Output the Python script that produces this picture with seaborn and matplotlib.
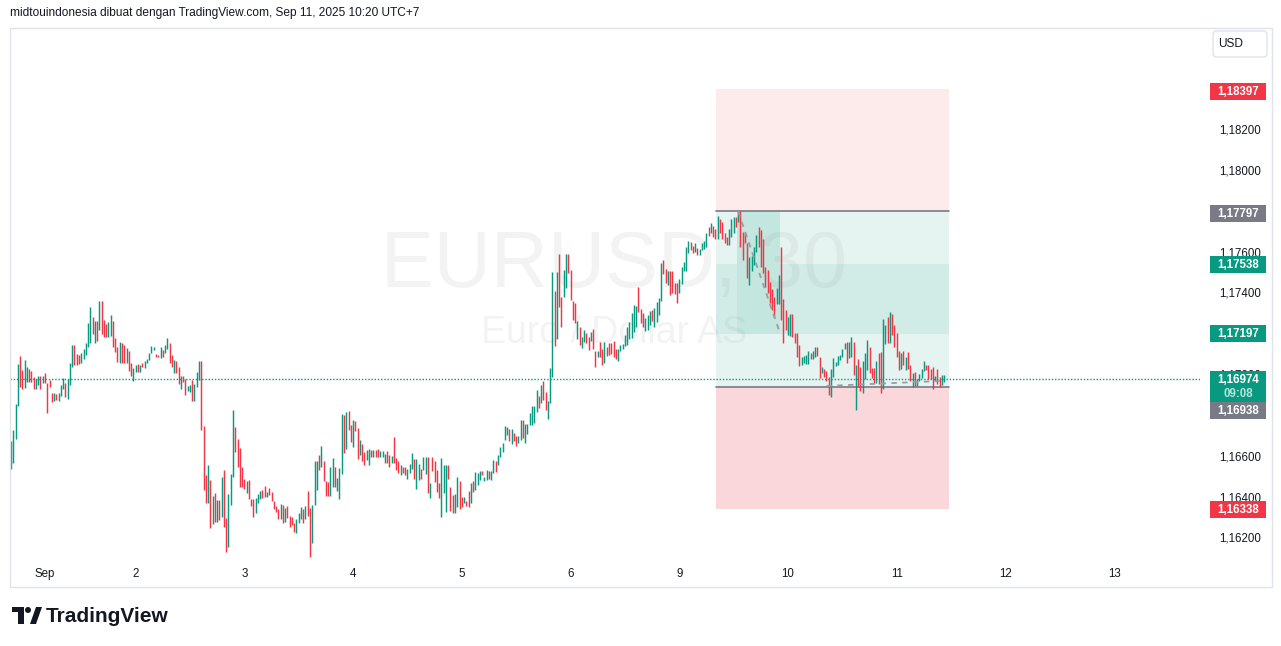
import matplotlib
matplotlib.use("Agg")
import matplotlib.pyplot as plt
from matplotlib.patches import Rectangle, Polygon, Circle, FancyBboxPatch
from matplotlib.transforms import IdentityTransform
import numpy as np
import pandas as pd
import seaborn as sns

# ---------------- data (EURUSD, 30 min) ----------------
highs = [
    1.16672, 1.16726, 1.16853, 1.17049, 1.17089, 1.17020, 1.17069, 1.17035, 1.17025, 1.17015,
    1.16986, 1.16976, 1.16991, 1.16991, 1.16991, 1.17005, 1.16956, 1.16971, 1.16907, 1.16907,
    1.16902, 1.16907, 1.16947, 1.16981, 1.16956, 1.16976, 1.17054, 1.17143, 1.17143, 1.17098,
    1.17094, 1.17103, 1.17123, 1.17152, 1.17250, 1.17329, 1.17280, 1.17260, 1.17260, 1.17358,
    1.17358, 1.17265, 1.17245, 1.17255, 1.17290, 1.17260, 1.17177, 1.17133, 1.17157, 1.17152,
    1.17143, 1.17128, 1.17113, 1.17054, 1.17030, 1.17045, 1.17049, 1.17045, 1.17054, 1.17064,
    1.17074, 1.17103, 1.17138, 1.17133, 1.17098, 1.17094, 1.17133, 1.17118, 1.17143, 1.17177,
    1.17152, 1.17094, 1.17069, 1.17064, 1.17035, 1.16991, 1.16991, 1.16976, 1.16942, 1.16947,
    1.16971, 1.16951, 1.17010, 1.17064, 1.17064,
    1.16746, 1.16506, 1.16555, 1.16481, 1.16403, 1.16417, 1.16383, 1.16383, 1.16496, 1.16530,
    1.16295, 1.16412, 1.16510, 1.16824, 1.16741, 1.16682, 1.16638, 1.16545, 1.16486, 1.16476,
    1.16481, 1.16388, 1.16388, 1.16393, 1.16412, 1.16427, 1.16432, 1.16452, 1.16422, 1.16442,
    1.16422, 1.16378, 1.16354, 1.16339, 1.16363, 1.16359, 1.16344, 1.16354, 1.16305, 1.16300,
    1.16270, 1.16290, 1.16319, 1.16349, 1.16339, 1.16354, 1.16427, 1.16344, 1.16359, 1.16574,
    1.16574, 1.16604, 1.16648, 1.16574, 1.16476, 1.16471, 1.16545, 1.16589, 1.16545, 1.16491,
    1.16540, 1.16804, 1.16800, 1.16814, 1.16819, 1.16751, 1.16775, 1.16770, 1.16736, 1.16677,
    1.16657, 1.16618, 1.16628, 1.16633, 1.16628, 1.16628, 1.16628, 1.16633, 1.16623, 1.16623,
    1.16608, 1.16623, 1.16604,
    1.16599, 1.16692, 1.16589, 1.16574, 1.16555, 1.16545, 1.16545, 1.16535, 1.16559, 1.16613,
    1.16584, 1.16584, 1.16559, 1.16535, 1.16594, 1.16594, 1.16594, 1.16466, 1.16594, 1.16574,
    1.16530, 1.16466, 1.16589, 1.16555, 1.16555, 1.16555, 1.16447, 1.16408, 1.16412, 1.16496,
    1.16476, 1.16398, 1.16398, 1.16378, 1.16427, 1.16466, 1.16476, 1.16520, 1.16515, 1.16525,
    1.16525, 1.16496, 1.16530, 1.16525, 1.16525, 1.16579, 1.16574, 1.16604, 1.16643, 1.16662,
    1.16746, 1.16741, 1.16731, 1.16731, 1.16711, 1.16697, 1.16697, 1.16775, 1.16775, 1.16755,
    1.16755, 1.16809, 1.16844, 1.16844, 1.16922, 1.16893, 1.16947, 1.16966, 1.16912, 1.16868,
    1.17030, 1.17500, 1.17407, 1.17500, 1.17588, 1.17378, 1.17510, 1.17588, 1.17588, 1.17510,
    1.17358, 1.17348,
    1.17260, 1.17231, 1.17182, 1.17216, 1.17201, 1.17182, 1.17206, 1.17221, 1.17113, 1.17113,
    1.17157, 1.17123, 1.17157, 1.17133, 1.17152, 1.17152, 1.17162, 1.17123, 1.17123, 1.17143,
    1.17147, 1.17192, 1.17231, 1.17255, 1.17299, 1.17339, 1.17334, 1.17427, 1.17319, 1.17299,
    1.17275, 1.17290, 1.17309, 1.17314, 1.17324, 1.17353, 1.17373, 1.17544, 1.17559, 1.17515,
    1.17505, 1.17505, 1.17505, 1.17446, 1.17446, 1.17466, 1.17525, 1.17549, 1.17623, 1.17652,
    1.17647, 1.17628, 1.17642, 1.17618, 1.17613, 1.17642, 1.17652, 1.17691, 1.17721, 1.17740,
    1.17726, 1.17711, 1.17775, 1.17760, 1.17745, 1.17691, 1.17672, 1.17711, 1.17760, 1.17770,
    1.17770, 1.17794, 1.17797,
    1.17696, 1.17691, 1.17642, 1.17574, 1.17579, 1.17623, 1.17682, 1.17721, 1.17706, 1.17662,
    1.17525, 1.17510, 1.17451, 1.17417, 1.17378, 1.17422, 1.17486, 1.17623, 1.17368, 1.17314,
    1.17280, 1.17294, 1.17294, 1.17201, 1.17201, 1.17143, 1.17084, 1.17089, 1.17094, 1.17113,
    1.17103, 1.17113, 1.17133, 1.17133, 1.17084, 1.17035, 1.17025, 1.17015, 1.16986, 1.17025,
    1.17079, 1.17059, 1.17089, 1.17094, 1.17123, 1.17152, 1.17157, 1.17157, 1.17182, 1.17157,
    1.17045, 1.17074, 1.17035, 1.17064, 1.17103, 1.17167, 1.17133, 1.17030, 1.17030, 1.17064,
    1.17103, 1.17108, 1.17270, 1.17241, 1.17280, 1.17304, 1.17294, 1.17241, 1.17201, 1.17113,
    1.17103, 1.17113, 1.17084, 1.17108, 1.17045, 1.17005, 1.17010, 1.16976, 1.17000, 1.17025,
    1.17064, 1.17045, 1.17045, 1.17025, 1.17035, 1.16991, 1.17025, 1.16986, 1.16996, 1.16996,
]
lows = [
    1.16535, 1.16564, 1.16682, 1.16844, 1.16937, 1.16927, 1.16932, 1.16961, 1.16961, 1.16961,
    1.16927, 1.16927, 1.16947, 1.16927, 1.16956, 1.16956, 1.16809, 1.16937, 1.16863, 1.16868,
    1.16873, 1.16868, 1.16893, 1.16927, 1.16888, 1.16878, 1.16947, 1.17035, 1.17045, 1.17045,
    1.17049, 1.17054, 1.17074, 1.17094, 1.17133, 1.17152, 1.17196, 1.17152, 1.17162, 1.17216,
    1.17196, 1.17182, 1.17182, 1.17182, 1.17187, 1.17133, 1.17108, 1.17059, 1.17054, 1.17054,
    1.17054, 1.17054, 1.17015, 1.16991, 1.16966, 1.17010, 1.17010, 1.17010, 1.17035, 1.17030,
    1.17054, 1.17069, 1.17103, 1.17118, 1.17084, 1.17084, 1.17079, 1.17084, 1.17103, 1.17123,
    1.17054, 1.17035, 1.17005, 1.17005, 1.16951, 1.16927, 1.16961, 1.16898, 1.16917, 1.16912,
    1.16868, 1.16868, 1.16937, 1.16971, 1.16726,
    1.16432, 1.16368, 1.16368, 1.16246, 1.16265, 1.16275, 1.16275, 1.16285, 1.16300, 1.16251,
    1.16128, 1.16153, 1.16359, 1.16496, 1.16618, 1.16545, 1.16447, 1.16447, 1.16437, 1.16417,
    1.16388, 1.16354, 1.16300, 1.16319, 1.16368, 1.16388, 1.16393, 1.16398, 1.16398, 1.16408,
    1.16378, 1.16339, 1.16324, 1.16290, 1.16290, 1.16270, 1.16275, 1.16295, 1.16251, 1.16261,
    1.16226, 1.16221, 1.16270, 1.16290, 1.16270, 1.16290, 1.16305, 1.16104, 1.16172, 1.16359,
    1.16432, 1.16530, 1.16545, 1.16476, 1.16403, 1.16403, 1.16403, 1.16447, 1.16447, 1.16427,
    1.16388, 1.16510, 1.16613, 1.16633, 1.16726, 1.16667, 1.16643, 1.16721, 1.16584, 1.16604,
    1.16574, 1.16555, 1.16579, 1.16555, 1.16594, 1.16594, 1.16594, 1.16594, 1.16594, 1.16594,
    1.16564, 1.16564, 1.16545,
    1.16564, 1.16564, 1.16530, 1.16515, 1.16506, 1.16515, 1.16506, 1.16486, 1.16515, 1.16535,
    1.16486, 1.16437, 1.16481, 1.16486, 1.16530, 1.16510, 1.16417, 1.16393, 1.16525, 1.16471,
    1.16422, 1.16393, 1.16300, 1.16417, 1.16324, 1.16486, 1.16329, 1.16319, 1.16319, 1.16349,
    1.16339, 1.16349, 1.16368, 1.16354, 1.16349, 1.16368, 1.16422, 1.16432, 1.16457, 1.16481,
    1.16506, 1.16476, 1.16481, 1.16486, 1.16481, 1.16515, 1.16520, 1.16555, 1.16594, 1.16618,
    1.16677, 1.16702, 1.16672, 1.16657, 1.16672, 1.16648, 1.16662, 1.16677, 1.16687, 1.16662,
    1.16706, 1.16751, 1.16751, 1.16760, 1.16814, 1.16834, 1.16858, 1.16873, 1.16824, 1.16780,
    1.16858, 1.16986, 1.17138, 1.17172, 1.17329, 1.17231, 1.17378, 1.17422, 1.17495, 1.17363,
    1.17265, 1.17250,
    1.17172, 1.17143, 1.17128, 1.17157, 1.17152, 1.17118, 1.17162, 1.17123, 1.17035, 1.17084,
    1.17084, 1.17045, 1.17054, 1.17089, 1.17094, 1.17098, 1.17084, 1.17074, 1.17064, 1.17113,
    1.17123, 1.17138, 1.17143, 1.17172, 1.17177, 1.17206, 1.17231, 1.17304, 1.17250, 1.17231,
    1.17211, 1.17216, 1.17241, 1.17260, 1.17231, 1.17255, 1.17290, 1.17358, 1.17490, 1.17446,
    1.17437, 1.17388, 1.17397, 1.17392, 1.17348, 1.17397, 1.17441, 1.17505, 1.17505, 1.17593,
    1.17608, 1.17593, 1.17598, 1.17584, 1.17584, 1.17608, 1.17613, 1.17623, 1.17677, 1.17691,
    1.17672, 1.17662, 1.17662, 1.17691, 1.17662, 1.17642, 1.17633, 1.17633, 1.17672, 1.17691,
    1.17721, 1.17745, 1.17623,
    1.17559, 1.17642, 1.17471, 1.17437, 1.17505, 1.17535, 1.17598, 1.17623, 1.17525, 1.17495,
    1.17427, 1.17397, 1.17348, 1.17314, 1.17280, 1.17343, 1.17343, 1.17265, 1.17152, 1.17216,
    1.17192, 1.17187, 1.17182, 1.17152, 1.17084, 1.17040, 1.17045, 1.17054, 1.17049, 1.17049,
    1.17074, 1.17074, 1.17084, 1.17089, 1.16981, 1.17005, 1.16986, 1.16966, 1.16898, 1.16888,
    1.16986, 1.17040, 1.17045, 1.17069, 1.17084, 1.17123, 1.17054, 1.17079, 1.17084, 1.16996,
    1.16824, 1.16937, 1.16917, 1.16907, 1.16976, 1.17020, 1.17005, 1.16981, 1.16956, 1.16956,
    1.16951, 1.16907, 1.16927, 1.17147, 1.17152, 1.17152, 1.17192, 1.17133, 1.17084, 1.17020,
    1.17025, 1.17045, 1.17020, 1.17025, 1.16966, 1.16937, 1.16942, 1.16942, 1.16966, 1.16981,
    1.17015, 1.17020, 1.16976, 1.16976, 1.16927, 1.16966, 1.16951, 1.16937, 1.16947, 1.16961,
]
direction = (
    "ggggrrggrrrggrgrrrrg" "rgggrgggrrrgggggrgr" "grrrggrrrgrrgrrggrgrggggg" "rrgrggrrgrrgrrggrgggr"
    "rrgrgrgrgrrgg" "grrrrrgrrrgggrrgrrrr" "rgrgrrrrgggrgrrgggrg" "rrrggrgggrgrrgrrgrrg" "grgrrgggrr"
    "grrrgr" "rgggrggrggrgr" "rrrgggrrrggrrgrrgrgggr" "ggrggrgggggrg" "rrggrggggggrgrrgggrgrrggrrrr"
    "grggrrg" "rrgrrgrrrr" "rgggggggggrrr" "gggrggggrrg" "rrrrgggggrrg" "rggggrg" "rrgrrrrgggrgr"
    "rrrggggrrrrrrrrggrrrggrrrrg" "gggrggrrgrrrggggg" "ggrggrgrrgggrrrgrrggrgrrrrgrgrrgrg" "gggrrrrgrrgg"
)
first_bar = -15                       # bar index of first candle (0 = Sep 1 session open)
day_ticks = [0, 40, 88, 136, 184, 232, 280, 328, 376, 424, 472]
day_labels = ["Sep", "2", "3", "4", "5", "6", "9", "10", "11", "12", "13"]
# price-scale labels that are not hidden behind a badge
price_ticks = [1.162, 1.164, 1.166, 1.170, 1.174, 1.176, 1.180, 1.182]

last_price = 1.16974
countdown = "09:08"
stop_level = 1.18397
entry_level = 1.17797
zone_high = 1.17538
zone_low = 1.17197
exit_level = 1.16938
target_level = 1.16338
position_bars = (296.3, 399.1)
highlight_bars = (305.5, 324.5)
path1_bars, path1_prices = [306, 324], [1.17797, 1.17216]
path2_bars, path2_prices = [345, 395], [1.16942, 1.16966]

symbol = "EURUSD, 30"
description = "Euro / Dollar AS"
header = "midtouindonesia dibuat dengan TradingView.com, Sep 11, 2025 10:20 UTC+7"

UP, DOWN, GREY = "#089981", "#f23645", "#787b86"
TXT = "#131722"

# ---------------- figure ----------------
W, H = 1281, 646
sns.set_theme(style="white")
plt.rcParams["font.family"] = ["Liberation Sans", "DejaVu Sans"]

fig = plt.figure(figsize=(W / 100, H / 100), dpi=100)
fig.patch.set_facecolor("white")

ax_l, ax_r, ax_t, ax_b = 10, 1200, 28, 561
ax = fig.add_axes([ax_l / W, 1 - ax_b / H, (ax_r - ax_l) / W, (ax_b - ax_t) / H])
ax.set_facecolor("white")
for s in ax.spines.values():
    s.set_visible(False)
ax.grid(False)
ax.set_xlim(-15.45, 509.9)
ax.set_ylim(1.16084, 1.18696)

# watermark (above the position fills, below candles)
ax.text(0.508, 0.553, symbol, transform=ax.transAxes, ha="center", va="center",
        fontsize=57, color=GREY, alpha=0.085, zorder=1.5)
ax.text(0.508, 0.428, description, transform=ax.transAxes, ha="center", va="center",
        fontsize=27, color=GREY, alpha=0.085, zorder=1.5)

# position tool
x0, x1 = position_bars
ax.add_patch(Rectangle((x0, entry_level), x1 - x0, stop_level - entry_level, facecolor="#fdeaeb", edgecolor="none", zorder=1))
ax.add_patch(Rectangle((x0, exit_level), x1 - x0, entry_level - exit_level, facecolor="#e6f4f1", edgecolor="none", zorder=1))
ax.add_patch(Rectangle((x0, zone_low), x1 - x0, zone_high - zone_low, facecolor="#d1ece6", edgecolor="none", zorder=1.1))
ax.add_patch(Rectangle((highlight_bars[0], zone_low), highlight_bars[1] - highlight_bars[0], entry_level - zone_low,
                       facecolor="#c3e6de", edgecolor="none", zorder=1.2))
ax.add_patch(Rectangle((x0, target_level), x1 - x0, exit_level - target_level, facecolor="#f9d7da", edgecolor="none", zorder=1))
ax.plot([x0, x1], [entry_level, entry_level], color=GREY, lw=1.2, zorder=2)
ax.plot([x0, x1], [exit_level, exit_level], color=GREY, lw=1.2, zorder=2)

# candles
n = len(highs)
df = pd.DataFrame({"bar": np.arange(n) + first_bar, "high": highs, "low": lows, "dir": list(direction)})
cols = df["dir"].map({"g": UP, "r": DOWN}).tolist()
ax.vlines(df["bar"], df["low"], df["high"], colors=cols, linewidth=1.05, zorder=3)

# trade path (dashed)
path = pd.DataFrame({"bar": path1_bars + path2_bars, "price": path1_prices + path2_prices,
                     "seg": ["a", "a", "b", "b"]})
sns.lineplot(data=path, x="bar", y="price", units="seg", estimator=None, color="#9a9ca4",
             lw=1.3, linestyle=(0, (3, 3)), ax=ax, zorder=4, legend=False)

# last price dotted line
ax.axhline(last_price, color=UP, lw=1.0, linestyle=(0, (1, 1.3)), zorder=4)

# axes ticks
ax.set_xticks(day_ticks)
ax.set_xticklabels(day_labels)
ax.tick_params(axis="x", length=0, pad=5, labelsize=8.3, labelcolor=TXT)
ax.yaxis.tick_right()
ax.set_yticks(price_ticks)
ax.set_yticklabels([f"{v:.5f}".replace(".", ",") for v in price_ticks])
ax.tick_params(axis="y", length=0, pad=13.5, labelsize=8.3, labelcolor=TXT)
ax.set_xlabel("")
ax.set_ylabel("")

# ---------------- price badges (display pixel coords) ----------------
IDT = IdentityTransform()


def ypix(level):
    return ax.transData.transform((0, level))[1]


def badge(yc, color, text, h=17):
    fig.add_artist(Rectangle((1210, yc - h / 2), 56, h, facecolor=color, edgecolor="none",
                             transform=IDT, zorder=10))
    fig.text(1238, yc - 0.5, text, transform=IDT, ha="center", va="center", fontsize=8.3,
             fontweight="bold", color="white", zorder=11)


def fmt(v):
    return f"{v:.5f}".replace(".", ",")


badge(ypix(stop_level) - 2, DOWN, fmt(stop_level))
badge(ypix(entry_level) - 2, GREY, fmt(entry_level))
badge(ypix(zone_high), UP, fmt(zone_high))
badge(ypix(zone_low), UP, fmt(zone_low))
badge(ypix(target_level), DOWN, fmt(target_level))
yl = ypix(last_price)
fig.add_artist(Rectangle((1210, yl - 23), 56, 31, facecolor=UP, edgecolor="none", transform=IDT, zorder=10))
fig.text(1238, yl - 0.5, fmt(last_price), transform=IDT, ha="center", va="center", fontsize=8.3,
         fontweight="bold", color="white", zorder=11)
fig.text(1238, yl - 15, countdown, transform=IDT, ha="center", va="center", fontsize=8.3,
         fontweight="bold", color="#b9e3d8", zorder=11)
badge(yl - 31.5, GREY, fmt(exit_level))

# USD box
fig.add_artist(FancyBboxPatch((1213, H - 57), 54, 26, boxstyle="round,pad=0,rounding_size=3",
                              facecolor="white", edgecolor="#e0e3eb", lw=1, transform=IDT, zorder=10))
fig.text(1231, H - 44, "USD", transform=IDT, ha="center", va="center", fontsize=8.6, color=TXT, zorder=11)

# frame
fig.add_artist(Rectangle((10, H - 587), 1262, 559, facecolor="none", edgecolor="#e0e3eb", lw=1,
                         transform=IDT, zorder=9))

# header
fig.text(10, H - 13, header, transform=IDT, ha="left", va="center", fontsize=8.6, color=TXT)

# TradingView logo
logo_c = "#131722"
fig.add_artist(Polygon([(12, H - 607), (24, H - 607), (24, H - 624), (18, H - 624), (18, H - 612), (12, H - 612)],
                       closed=True, facecolor=logo_c, edgecolor="none", transform=IDT))
fig.add_artist(Circle((28, H - 610), 3, facecolor=logo_c, edgecolor="none", transform=IDT))
fig.add_artist(Polygon([(30, H - 624), (36, H - 607), (42, H - 607), (36, H - 624)],
                       closed=True, facecolor=logo_c, edgecolor="none", transform=IDT))
fig.text(46, H - 616, "TradingView", transform=IDT, ha="left", va="center", fontsize=15,
         fontweight="bold", color=logo_c)

fig.savefig("out.png", dpi=100, facecolor="white")
